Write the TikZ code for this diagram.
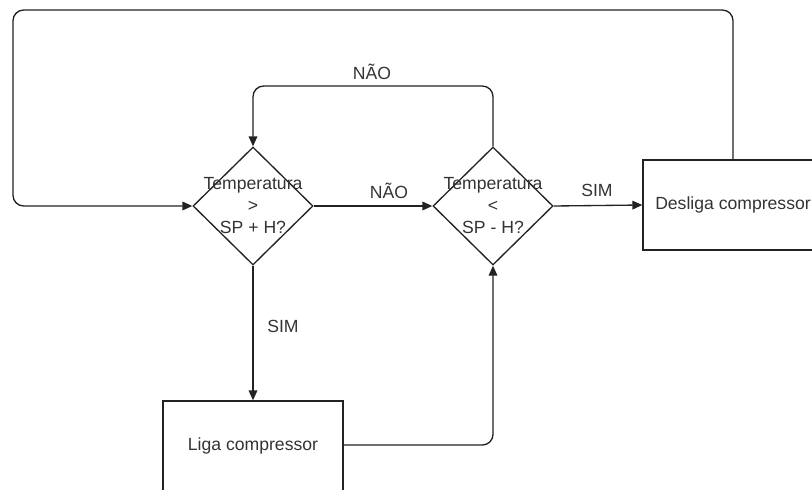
\documentclass[tikz,border=0pt]{standalone}
\usepackage{fontspec}
\setmainfont{Liberation Sans}
\usetikzlibrary{shapes.geometric,arrows.meta}
\definecolor{txt}{HTML}{333333}
\definecolor{ln}{HTML}{222222}
\begin{document}
\begin{tikzpicture}[x=0.75pt,y=-0.75pt,
  every node/.style={font=\fontsize{13.2}{16.5}\selectfont,text=txt},
  dec/.style={draw=ln,line width=1pt,diamond,minimum width=90pt,minimum height=88.5pt,inner sep=0pt,align=center,text width=10pt},
  boxn/.style={draw=ln,line width=1pt,rectangle,minimum width=135pt,minimum height=67.5pt,inner sep=0pt},
  conn/.style={draw=ln,line width=1pt,-{Triangle[length=7.5pt,width=6.5pt]},rounded corners=8pt},
  lbl/.style={fill=none}]
\useasboundingbox (0,0) rectangle (812,489);
\begin{scope}
\clip (0,0) rectangle (812,489);
\node[dec] (d1) at (253,206) {};
\node[dec] (d2) at (493,206) {};
\node[boxn] (off) at (733,205) {};
\node[boxn] (on) at (253,446) {};
\node[align=center] (t1) at (d1.center) {Temperatura\\>\\SP + H?};
\node[align=center] (t2) at (d2.center) {Temperatura\\<\\SP - H?};
\node (t3) at (off.center) {Desliga compressor};
\node (t4) at (on.center) {Liga compressor};
\coordinate (c1) at (733,10);
\coordinate (c2) at (13,10);
\coordinate (c3) at (13,206);
\coordinate (c4) at (493,86);
\coordinate (c5) at (253,86);
\coordinate (c6) at (493,445);
\draw[conn] (off.north) -- (c1) -- (c2) -- (c3) -- (d1.west);
\draw[conn] (d2.north) -- (c4) -- (c5) -- (d1.north);
\draw[conn] (d1.east) -- (d2.west);
\draw[conn] (d2.east) -- (off.west);
\draw[conn] (d1.south) -- (on.north);
\draw[conn] (on.east |- c6) -- (c6) -- (d2.south);
\node[lbl] (l1) at (372,72) {NÃO};
\node[lbl] (l2) at (389,191) {NÃO};
\node[lbl] (l3) at (597,190) {SIM};
\node[lbl] (l4) at (283,326) {SIM};
\end{scope}
\end{tikzpicture}
\end{document}
